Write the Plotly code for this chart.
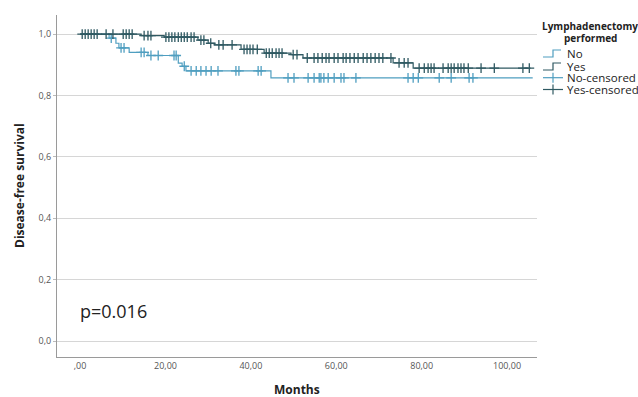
import numpy as np
import plotly.graph_objects as go

# ---- data (months, survival proportion) ----
no_event_times = [6.8, 8.4, 9.1, 11.5, 15.9, 23.0, 23.9, 24.8, 44.7]
no_surv = [0.987, 0.970, 0.955, 0.940, 0.930, 0.905, 0.895, 0.880, 0.857]
no_end = 106.0
no_censored = [7.3, 9.6, 10.3, 14.3, 15.0, 16.6, 18.3, 22.0, 22.5, 24.4,
               26.0, 27.2, 28.3, 29.5, 30.7, 32.3, 36.5, 37.2, 41.7, 42.4,
               48.7, 50.1, 53.4, 54.8, 56.0, 56.4, 57.1, 58.1, 59.5, 61.1,
               61.8, 64.6, 76.8, 78.0, 79.2, 84.1, 86.9, 91.1, 92.0]

yes_event_times = [14.3, 19.7, 27.6, 30.0, 31.4, 37.7, 43.1, 49.4, 52.2, 73.3, 78.0]
yes_surv = [0.995, 0.990, 0.980, 0.970, 0.965, 0.950, 0.938, 0.933, 0.922, 0.906, 0.889]
yes_end = 105.5
yes_censored = [0.5, 1.2, 1.9, 2.6, 3.3, 4.0, 6.1, 7.7, 10.1, 10.8, 11.5, 12.2,
                15.0, 15.9, 16.6, 20.1, 20.8, 21.5, 22.2, 23.0, 23.7, 24.4, 25.1,
                26.0, 26.7, 28.3, 29.0, 30.6, 32.5, 33.5, 35.6, 38.4, 39.1, 39.8,
                40.5, 41.5, 43.6, 44.3, 45.0, 45.9, 46.6, 47.3, 49.9, 50.8, 53.2,
                54.8, 55.7, 56.7, 57.6, 58.3, 59.5, 60.4, 61.6, 62.3, 63.2, 64.2,
                65.1, 66.3, 67.2, 68.1, 69.1, 70.0, 70.9, 72.8, 74.7, 75.9, 76.8,
                79.4, 80.6, 81.5, 82.2, 82.9, 85.0, 86.2, 86.9, 87.6, 88.5, 89.2,
                89.9, 90.9, 93.9, 97.0, 103.7, 105.2]

y_tick_vals = [0.0, 0.2, 0.4, 0.6, 0.8, 1.0]
y_tick_text = ["0,0", "0,2", "0,4", "0,6", "0,8", "1,0"]
x_tick_vals = [0, 20, 40, 60, 80, 100]
x_tick_text = [",00", "20,00", "40,00", "60,00", "80,00", "100,00"]

NO_COLOR = "#4f9ec0"
YES_COLOR = "#2f5962"


def step_xy(times, surv, end):
    return [0] + list(times) + [end], [1.0] + list(surv) + [surv[-1]]


def surv_at(times, surv, t):
    t_arr = np.asarray(times)
    s_arr = np.concatenate([[1.0], np.asarray(surv)])
    idx = np.searchsorted(t_arr, np.asarray(t), side="right")
    return s_arr[idx]


fig = go.Figure()
for times, surv, end, cens, col, name in [
    (no_event_times, no_surv, no_end, no_censored, NO_COLOR, "No"),
    (yes_event_times, yes_surv, yes_end, yes_censored, YES_COLOR, "Yes"),
]:
    xs, ys = step_xy(times, surv, end)
    fig.add_trace(go.Scatter(x=xs, y=ys, mode="lines", line=dict(color=col, width=1.2, shape="hv"),
                             name=name, showlegend=False, hoverinfo="skip"))
    fig.add_trace(go.Scatter(x=cens, y=surv_at(times, surv, cens), mode="markers",
                             marker=dict(symbol="cross-thin-open", size=7, color=col,
                                         line=dict(color=col, width=1.3)),
                             name=name + "-censored", showlegend=False, hoverinfo="skip"))

L, R, T, B = 57, 537, 15, 357
W, H = 638, 397
pw, ph = R - L, B - T


def px(xp):
    return (xp - L) / pw


def py(yp):
    return (B - yp) / ph


font = "Open Sans"
ann = []
ann.append(dict(text="<b>Disease-free survival</b>", x=px(19), y=0.5, xref="paper", yref="paper",
                textangle=-90, showarrow=False, font=dict(family=font, size=12, color="#222"),
                xanchor="center", yanchor="middle"))
ann.append(dict(text="<b>Months</b>", x=0.5, y=py(389), xref="paper", yref="paper",
                showarrow=False, font=dict(family=font, size=12, color="#222"),
                xanchor="center", yanchor="middle"))
ann.append(dict(text="p=0.016", x=-0.6, y=0.098, xref="x", yref="y", showarrow=False,
                font=dict(family=font, size=18, color="#222"), xanchor="left", yanchor="middle"))
# legend (custom, SPSS style)
ann.append(dict(text="<b>Lymphadenectomy</b>", x=px(590), y=py(26.5), xref="paper", yref="paper",
                showarrow=False, font=dict(family=font, size=10, color="#222"),
                xanchor="center", yanchor="middle"))
ann.append(dict(text="<b>performed</b>", x=px(590), y=py(38), xref="paper", yref="paper",
                showarrow=False, font=dict(family=font, size=10, color="#222"),
                xanchor="center", yanchor="middle"))
rows = [("No", 53, NO_COLOR, "step"), ("Yes", 66, YES_COLOR, "step"),
        ("No-censored", 77.7, NO_COLOR, "cross"), ("Yes-censored", 89.5, YES_COLOR, "cross")]
shapes = []
for label, ry, col, kind in rows:
    ann.append(dict(text=label, x=px(565), y=py(ry), xref="paper", yref="paper", showarrow=False,
                    font=dict(family=font, size=11.5, color="#222"), xanchor="left", yanchor="middle"))
    if kind == "step":
        path = (f"M {px(543)},{py(ry + 4)} L {px(553)},{py(ry + 4)} L {px(553)},{py(ry - 3)} "
                f"L {px(561)},{py(ry - 3)}")
        shapes.append(dict(type="path", path=path, xref="paper", yref="paper",
                           line=dict(color=col, width=1.2)))
    else:
        shapes.append(dict(type="line", x0=px(543), x1=px(563), y0=py(ry), y1=py(ry),
                           xref="paper", yref="paper", line=dict(color=col, width=1.2)))
        shapes.append(dict(type="line", x0=px(553), x1=px(553), y0=py(ry - 5), y1=py(ry + 5),
                           xref="paper", yref="paper", line=dict(color=col, width=1.2)))

fig.update_layout(
    width=W, height=H, margin=dict(l=L, r=W - R, t=T, b=H - B),
    paper_bgcolor="white", plot_bgcolor="white", showlegend=False,
    annotations=ann, shapes=shapes,
    font=dict(family=font),
)
fig.update_xaxes(range=[-5.4, 107.0], tickvals=x_tick_vals, ticktext=x_tick_text,
                 showgrid=False, zeroline=False, showline=True, linecolor="#9a9a9a", linewidth=1,
                 ticks="", tickfont=dict(family=font, size=9, color="#555"))
fig.update_yaxes(range=[-0.052, 1.062], tickvals=y_tick_vals, ticktext=y_tick_text,
                 showgrid=True, gridcolor="#d6d6d6", gridwidth=1, zeroline=False,
                 showline=True, linecolor="#9a9a9a", linewidth=1,
                 ticks="outside", ticklen=3, tickcolor="#bbbbbb",
                 tickfont=dict(family=font, size=9, color="#555"))

fig.write_html("out.html", config={"displayModeBar": False},
               post_script="document.body.style.margin='0';document.body.style.overflow='hidden';")
